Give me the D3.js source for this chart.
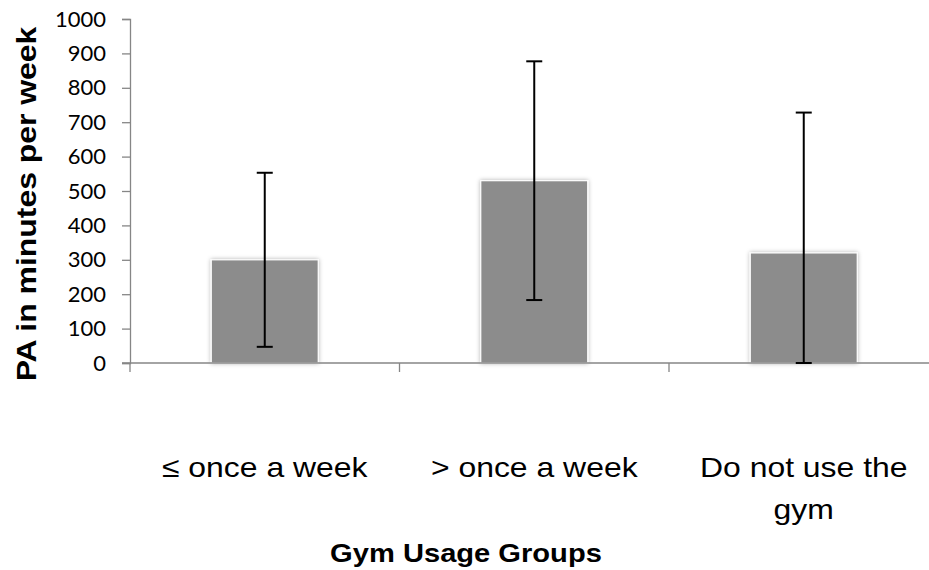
<!DOCTYPE html>
<html>
<head>
<meta charset="utf-8">
<script src="https://cdn.jsdelivr.net/npm/d3@7"></script>
<style>
  html, body { margin: 0; padding: 0; background: #fff; }
  svg { display: block; }
</style>
</head>
<body>
<svg id="chart" width="929" height="570"></svg>
<script>
// Physical activity by gym usage group: mean minutes per week with SD error bars
const categories = ["≤ once a week", "> once a week", "Do not use the gym"];
const meanMinutes = [300, 530, 320];
const sdMinutes = [253, 347, 408];
const yTicks = [0, 100, 200, 300, 400, 500, 600, 700, 800, 900, 1000];

const svg = d3.select("#chart");
const plot = { left: 130, right: 938.5, top: 19, bottom: 363 };

const x = d3.scaleBand()
  .domain(categories)
  .range([plot.left, plot.right])
  .paddingInner(0.603)
  .paddingOuter(0.3015);

const y = d3.scaleLinear()
  .domain([0, 1000])
  .range([plot.bottom, plot.top]);

// soft shadow behind the bars
const defs = svg.append("defs");
const f = defs.append("filter").attr("id", "barShadow")
  .attr("x", "-20%").attr("y", "-20%").attr("width", "140%").attr("height", "140%");
f.append("feDropShadow")
  .attr("dx", 0).attr("dy", 0).attr("stdDeviation", 2.2)
  .attr("flood-color", "#000").attr("flood-opacity", 0.3);

const axisColor = "#868686";
const textFont = "'Liberation Sans', Arial, sans-serif";
const stretch = 1.12;   // labels are set a little wide

// y axis
const yAxis = svg.append("g")
  .attr("transform", `translate(${plot.left},0)`)
  .call(d3.axisLeft(y).tickValues(yTicks).tickSize(8).tickPadding(16).tickFormat(d3.format("d")));
yAxis.select(".domain").attr("stroke", axisColor).attr("stroke-width", 1.3);
yAxis.selectAll(".tick line").attr("stroke", axisColor).attr("stroke-width", 1.3);
yAxis.selectAll(".tick text")
  .attr("fill", "#000")
  .style("font-family", "Lato, sans-serif")
  .style("font-size", "22px");

// bars
svg.append("g").selectAll("rect")
  .data(categories)
  .join("rect")
  .attr("x", d => x(d))
  .attr("width", x.bandwidth())
  .attr("y", (d, i) => y(meanMinutes[i]))
  .attr("height", (d, i) => y(0) - y(meanMinutes[i]))
  .attr("fill", "#8c8c8c")
  .attr("stroke", "#ffffff")
  .attr("stroke-width", 1.2)
  .attr("filter", "url(#barShadow)");

// x axis with ticks between categories
const xAxisG = svg.append("g");
xAxisG.append("line")
  .attr("x1", plot.left - 8).attr("x2", plot.right)
  .attr("y1", y(0)).attr("y2", y(0))
  .attr("stroke", axisColor).attr("stroke-width", 1.6);
const boundaries = categories.map(c => x(c) + x.bandwidth() / 2 + x.step() / 2);
xAxisG.selectAll("line.sep")
  .data([plot.left].concat(boundaries))
  .join("line")
  .attr("class", "sep")
  .attr("x1", d => d).attr("x2", d => d)
  .attr("y1", y(0)).attr("y2", y(0) + 9)
  .attr("stroke", axisColor).attr("stroke-width", 1.3);

// error bars (lower end held at the axis minimum)
const err = svg.append("g").attr("stroke", "#000").attr("stroke-width", 2);
categories.forEach((c, i) => {
  const cx = x(c) + x.bandwidth() / 2;
  const hi = y(Math.min(1000, meanMinutes[i] + sdMinutes[i]));
  const lo = y(Math.max(0, meanMinutes[i] - sdMinutes[i]));
  err.append("line").attr("x1", cx).attr("x2", cx).attr("y1", hi).attr("y2", lo);
  err.append("line").attr("x1", cx - 8).attr("x2", cx + 8).attr("y1", hi).attr("y2", hi);
  err.append("line").attr("x1", cx - 8).attr("x2", cx + 8).attr("y1", lo).attr("y2", lo);
});

// category labels (wrapped onto lines)
const catLines = [["≤ once a week"], ["> once a week"], ["Do not use the", "gym"]];
const catG = svg.append("g")
  .style("font-family", textFont)
  .style("font-size", "28.5px")
  .attr("text-anchor", "middle")
  .attr("fill", "#000");
categories.forEach((c, i) => {
  const cx = x(c) + x.bandwidth() / 2;
  catLines[i].forEach((ln, k) => {
    catG.append("text")
      .attr("transform", `translate(${cx},${477 + k * 42}) scale(${stretch},1)`)
      .text(ln);
  });
});

// axis titles
svg.append("text")
  .attr("transform", `translate(466,562) scale(${stretch},1)`)
  .attr("text-anchor", "middle")
  .style("font-family", textFont)
  .style("font-weight", "bold")
  .style("font-size", "26px")
  .text("Gym Usage Groups");

svg.append("text")
  .attr("transform", "translate(36,204) rotate(-90) scale(1.14,1)")
  .attr("text-anchor", "middle")
  .style("font-family", textFont)
  .style("font-weight", "bold")
  .style("font-size", "28px")
  .text("PA in minutes per week");
</script>
</body>
</html>
